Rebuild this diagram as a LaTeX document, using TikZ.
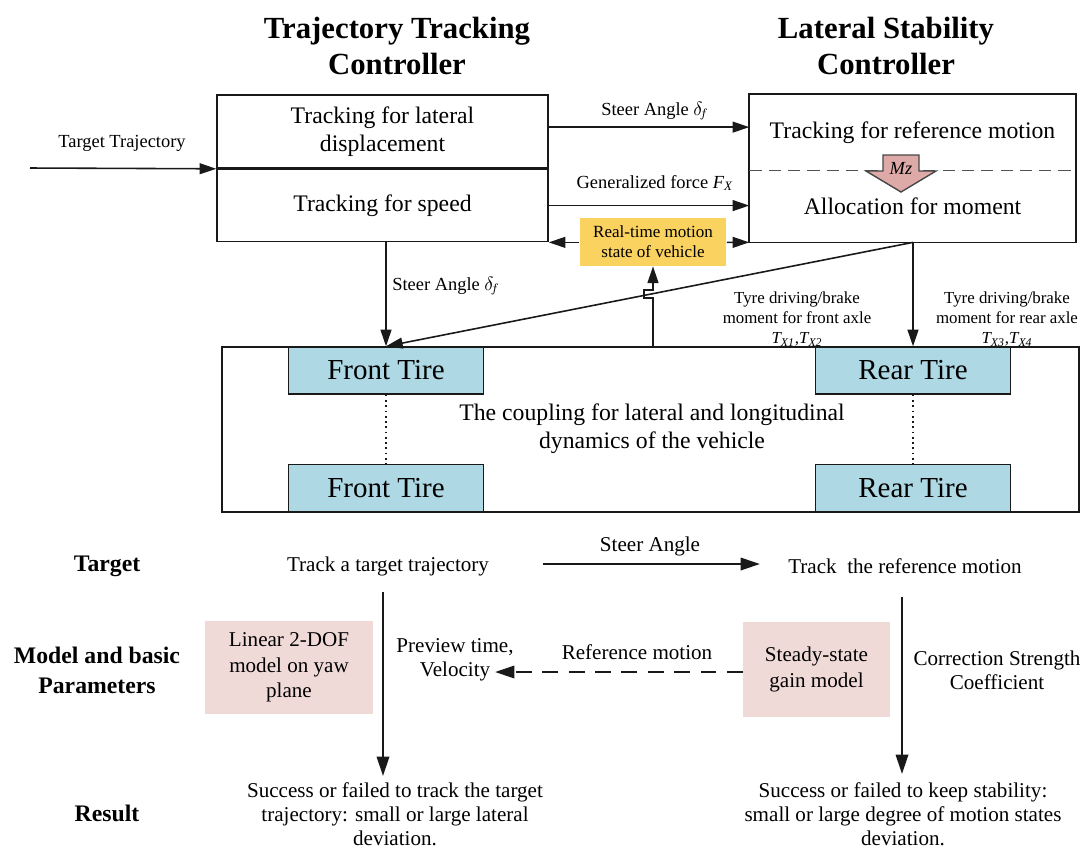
\documentclass[tikz,border=0pt]{standalone}
\usepackage{fontspec}
\setmainfont{Liberation Serif}
\usetikzlibrary{arrows.meta,positioning,calc}
\definecolor{tirefill}{RGB}{174,216,228}
\definecolor{pinkfill}{RGB}{240,218,216}
\definecolor{motionfill}{RGB}{250,210,95}
\definecolor{mzfill}{RGB}{222,170,168}
\definecolor{ink}{RGB}{25,25,25}

\tikzset{
  ctrlhalf/.style={draw=ink, line width=0.9pt, minimum width=6.62cm, align=center,
    inner sep=0pt, font=\fontsize{13.5}{16}\selectfont},
  tire/.style={draw=ink, line width=0.8pt, fill=tirefill, minimum width=3.9cm,
    minimum height=0.94cm, inner sep=0pt, font=\fontsize{16.5}{19}\selectfont},
  statebox/.style={fill=motionfill, minimum width=2.94cm, minimum height=0.96cm,
    align=center, inner sep=0pt, font=\fontsize{9.7}{11.4}\selectfont},
  modelbox/.style={fill=pinkfill, align=center, inner sep=0pt,
    font=\fontsize{12}{14.6}\selectfont},
  title/.style={align=center, font=\bfseries\fontsize{17.5}{21}\selectfont},
  lbl/.style={align=center, inner sep=1pt, font=\fontsize{10.5}{11.6}\selectfont},
  tinylbl/.style={align=center, inner sep=1pt, font=\fontsize{9.6}{11.5}\selectfont},
  plain/.style={align=center, inner sep=1pt, font=\fontsize{12}{13.6}\selectfont},
  rowlabel/.style={align=center, inner sep=1pt, font=\bfseries\fontsize{13.5}{17}\selectfont},
  arr/.style={draw=ink, line width=0.9pt, -{Triangle[length=9.5pt,width=6.2pt]}},
  bigarr/.style={draw=ink, line width=1.4pt, -{Triangle[length=11pt,width=7pt]}},
  dasharr/.style={bigarr, dash pattern=on 9pt off 6pt}
}

\begin{document}
\begin{tikzpicture}[x=0.02cm, y=-0.02cm]
\useasboundingbox (0,0) rectangle (1081,850);

\node[title] (ttc) at (397,46) {Trajectory Tracking\\Controller};
\node[title] (lsc) at (886,46) {Lateral Stability\\Controller};

% controllers
\node[ctrlhalf, minimum height=1.46cm] (lat) at (382.5,131.5) {Tracking for lateral\\displacement};
\node[ctrlhalf, minimum height=1.44cm, below=0pt of lat] (spd) {Tracking for speed};
\node[ctrlhalf, draw=none, minimum width=6.5cm, minimum height=1.5cm] (refm) at (912.5,132.5) {Tracking for reference motion};
\node[ctrlhalf, draw=none, minimum width=6.5cm, minimum height=1.4cm, below=0pt of refm] (alloc) {Allocation for moment};
\draw[ink, line width=0.9pt] (refm.north west) rectangle (alloc.south east);
\draw[ink!75, line width=0.8pt, dash pattern=on 7pt off 4pt] (refm.south west) -- (refm.south east);
\filldraw[fill=mzfill, draw=ink!80, line width=0.8pt] (883,155) -- (919,155) -- (919,171) -- (936,171)
  -- (901,192) -- (866,171) -- (883,171) -- cycle;
\node[font=\itshape\fontsize{10.5}{12}\selectfont, inner sep=0pt] (mz) at (901,168) {Mz};

\coordinate (ttin) at (30,168);
\draw[arr] (ttin) -- (lat.south west);
\node[lbl] (ttlbl) at (122,143) {Target Trajectory};

\draw[arr] ([yshift=2.5pt]lat.east) -- ([yshift=2.5pt]lat.east -| refm.west);
\node[lbl] (sa1lbl) at (655,111) {Steer Angle $\delta_{\!f}$};
\draw[arr] (spd.east) -- (spd.east -| alloc.west);
\node[lbl] (fxlbl) at (655,183) {Generalized force \textit{F}\textsubscript{\textit{X}}};

\node[statebox] (state) at (653,242) {Real-time motion\\state of vehicle};
\draw[arr] (state.west |- spd.south) -- (spd.south east);
\draw[arr] (state.east |- spd.south) -- (alloc.south west);

% vehicle
\node[draw=ink, line width=0.9pt, minimum width=17.14cm, minimum height=3.3cm] (veh) at (650.5,429.5) {};
\node[tire] (ft1) at (386,370.5) {Front Tire};
\node[tire] (ft2) at (386,488) {Front Tire};
\node[tire] (rt1) at (913,370.5) {Rear Tire};
\node[tire] (rt2) at (913,488) {Rear Tire};
\draw[ink, line width=1pt, dotted] (ft1.south) -- (ft2.north);
\draw[ink, line width=1pt, dotted] (rt1.south) -- (rt2.north);
\node[font=\fontsize{13.5}{16}\selectfont, align=center] (cpl) at (652,429) {The coupling for lateral and longitudinal\\dynamics of the vehicle};

\draw[arr] (spd.south -| ft1.north) -- (ft1.north);
\node[lbl] (sa2lbl) at (446,286) {Steer Angle $\delta_{\!f}$};
\coordinate (tyout) at (alloc.south -| rt1.north);
\draw[arr] (tyout) -- (ft1.north);
\draw[arr] (tyout) -- (rt1.north);
\draw[arr] (state.south |- veh.north) -- ++(0,-48) -- ++(-9,0) -- ++(0,-8) -- ++(9,0) -- (state.south);
\node[tinylbl] (frontlbl) at (797,319) {Tyre driving/brake\\moment for front axle\\\textit{T\textsubscript{X1},T\textsubscript{X2}}};
\node[tinylbl] (rearlbl) at (1007,319) {Tyre driving/brake\\moment for rear axle\\\textit{T\textsubscript{X3},T\textsubscript{X4}}};

% bottom table
\node[rowlabel] (rtarget) at (107,566) {Target};
\node[rowlabel] (rmodel) at (97,670) {Model and basic\\Parameters};
\node[rowlabel] (rresult) at (107,813) {Result};

\node[plain] (goal1) at (388,566) {Track a target trajectory};
\node[plain] (goal2) at (905,566) {Track\ \ the reference motion};
\coordinate (sa3a) at (543,564);
\coordinate (sa3b) at (760,564);
\draw[bigarr] (sa3a) -- (sa3b);
\node[plain] (sa3lbl) at (650,546) {Steer Angle};

\node[modelbox, minimum width=3.36cm, minimum height=1.86cm] (lin2dof) at (289,667.5) {Linear 2-DOF\\model on yaw\\plane};
\node[modelbox, minimum width=2.94cm, minimum height=1.9cm] (ssgain) at (816.5,669.5) {Steady-state\\gain model};
\coordinate (refend) at (495,672);
\draw[dasharr] (ssgain.west |- refend) -- (refend);
\node[plain] (reflbl) at (637,652) {Reference motion};
\node[plain] (prevlbl) at (455,660) {Preview time,\\Velocity};
\node[plain] (corrlbl) at (997,670) {Correction Strength\\Coefficient};

\coordinate (v1a) at (383,592);
\coordinate (v1b) at (383,776);
\draw[bigarr] (v1a) -- (v1b);
\coordinate (v2a) at (902,597);
\coordinate (v2b) at (902,774);
\draw[bigarr] (v2a) -- (v2b);

\node[plain] (res1) at (395,814) {Success or failed to track the target\\trajectory: small or large lateral\\deviation.};
\node[plain] (res2) at (903,814) {Success or failed to keep stability:\\small or large degree of motion states\\deviation.};
\end{tikzpicture}
\end{document}
